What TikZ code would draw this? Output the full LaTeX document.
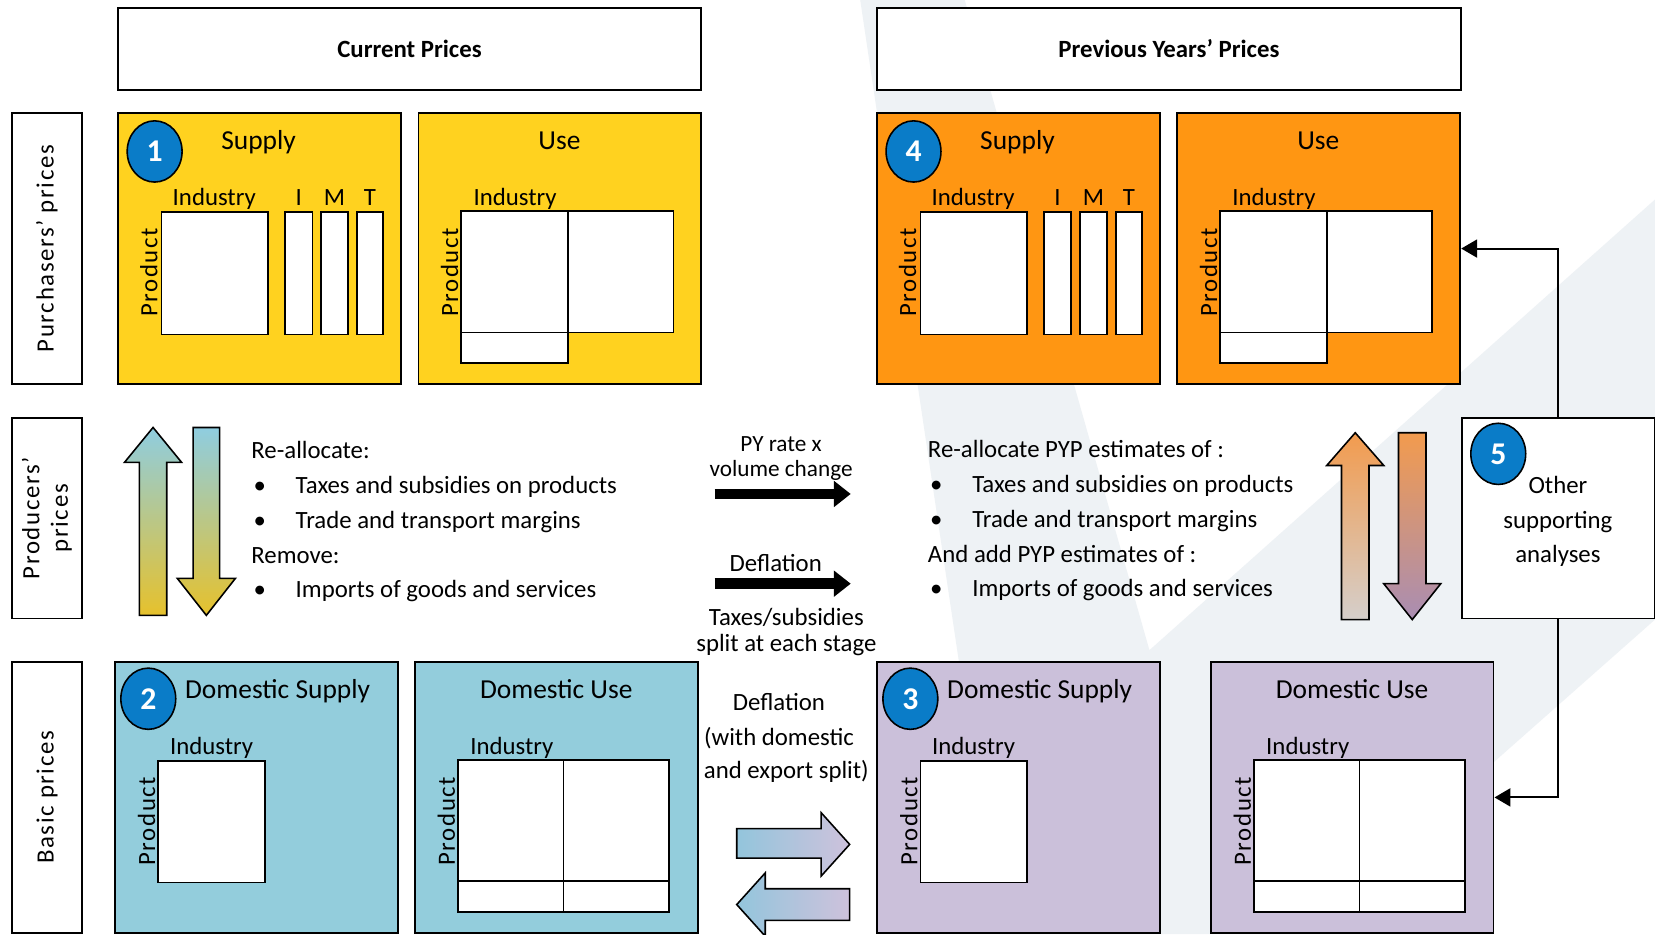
\documentclass[tikz,border=0pt]{standalone}
\usepackage{fontspec}
\setmainfont{Carlito}
\newfontfamily\spacedfont[LetterSpace=6.5]{Carlito}
\usetikzlibrary{shapes.geometric, positioning, arrows.meta}

\definecolor{supyel}{HTML}{FFD21F}
\definecolor{supor}{HTML}{FF9612}
\definecolor{basblue}{HTML}{93CDDC}
\definecolor{baspurp}{HTML}{CBC0DA}
\definecolor{numblue}{HTML}{0A7CC8}
\definecolor{wmark}{HTML}{EEF2F5}
\definecolor{arrblue}{HTML}{8FCDE0}
\definecolor{arrgold}{HTML}{E6C12C}
\definecolor{arrorange}{HTML}{F29B4E}
\definecolor{arrgrey}{HTML}{D5CFCB}
\definecolor{arrpurp}{HTML}{A98DB3}
\definecolor{hblue}{HTML}{93C5DC}
\definecolor{hpurp}{HTML}{CEC2DC}

\newcommand{\itembul}{\makebox[42pt][l]{\hspace{2pt}\textbullet}}

\tikzset{
  panel/.style={draw=black, line width=1.8pt, minimum width=268pt, minimum height=257pt, inner sep=0pt},
  header/.style={draw=black, line width=1.8pt, fill=white, minimum width=553pt, minimum height=77pt, text height=16pt, text depth=0pt, font=\fontsize{23.5}{28}\selectfont\bfseries},
  rowlab/.style={draw=black, line width=1.8pt, fill=white, rotate=90, minimum height=67pt, align=center, font=\spacedfont\fontsize{23.5}{27}\selectfont},
  cell/.style={draw=black, fill=white, line width=1.6pt},
  numcirc/.style={ellipse, draw=black, line width=1.5pt, fill=numblue, text=white, minimum width=52pt, minimum height=58pt, inner sep=0pt, font=\fontsize{30}{30}\selectfont\bfseries},
  lbl/.style={font=\fontsize{23.5}{28}\selectfont, inner sep=0pt, anchor=base},
  ttl/.style={font=\fontsize{26}{30}\selectfont, inner sep=0pt, anchor=base},
  prod/.style={font=\spacedfont\fontsize{23.5}{28}\selectfont, rotate=90, inner sep=0pt},
  link/.style={line width=1.8pt, -{Triangle[length=15pt,width=17pt]}},
  bigarrow/.style={line width=10pt, -{Triangle[length=16pt,width=24pt]}},
  blockarr/.style={draw=black, line width=1.5pt},
}

\begin{document}
\begin{tikzpicture}[x=1pt, y=-1pt]
\path[use as bounding box, fill=white] (0,0) rectangle (1568,885);
% watermark
\fill[wmark] (815,0) -- (914,0) -- (1089,616) -- (1568,189) -- (1568,587) -- (1231,885) -- (947,885) -- cycle;

% headers
\node[header] (hcp) at (388,46.5) {Current Prices};
\node[header] (hpy) at (1107.5,46.5) {Previous Years’ Prices};

% row labels
\node[rowlab, minimum width=257pt] (rpur) at (44.5,235.5) {Purchasers’ prices};
\node[rowlab, minimum width=190pt] (rpro) at (44.5,491) {Producers’\\prices};
\node[rowlab, minimum width=257pt] (rbas) at (44.5,755.5) {Basic prices};

% supply and use, purchasers' prices
\foreach \dx/\col/\idx/\nm in {0/supyel/1/cp, 719/supor/4/py} {
  \node[panel, fill=\col] (sup\nm) at (246+\dx,235.5) {};
  \node[panel, fill=\col] (use\nm) at (530.5+\dx,235.5) {};
  \node[numcirc] (n\idx) at (146.5+\dx,143.5) {\idx};
  \node[ttl] (tsup\nm) at (245+\dx,141.5) {Supply};
  \node[ttl] (tuse\nm) at (530+\dx,141.5) {Use};
  \node[lbl] (isup\nm) at (203+\dx,194.5) {Industry};
  \node[lbl] (li\nm) at (283+\dx,194.5) {I};
  \node[lbl] (lm\nm) at (317+\dx,194.5) {M};
  \node[lbl] (lt\nm) at (350.5+\dx,194.5) {T};
  \node[prod] (psup\nm) at (141+\dx,258) {Product};
  \draw[cell] (153+\dx,201) rectangle (254+\dx,317);
  \draw[cell] (270+\dx,201) rectangle (296+\dx,317);
  \draw[cell] (304+\dx,201) rectangle (330+\dx,317);
  \draw[cell] (338+\dx,201) rectangle (363+\dx,317);
  \node[lbl] (iuse\nm) at (488+\dx,194.5) {Industry};
  \node[prod] (puse\nm) at (426+\dx,258) {Product};
  \draw[cell] (437+\dx,200) rectangle (638+\dx,315);
  \draw[cell] (538+\dx,200) -- (538+\dx,315);
  \draw[cell] (437+\dx,315) rectangle (538+\dx,344);
}

% domestic supply and use, basic prices
\foreach \dx/\col/\idx/\nm in {0/basblue/2/cp, 722/baspurp/3/py} {
  \node[panel, fill=\col] (dsup\nm) at (243+\dx,755.5) {};
  \node[numcirc] (n\idx) at (140.5+\dx,662) {\idx};
  \node[ttl] (tdsup\nm) at (263+\dx,661.5) {Domestic Supply};
  \node[lbl] (idsup\nm) at (200.5+\dx,714.5) {Industry};
  \node[prod] (pdsup\nm) at (139+\dx,778) {Product};
  \draw[cell] (150+\dx,721) rectangle (251+\dx,836);
}
\foreach \dx/\col/\nm in {0/basblue/cp, 754/baspurp/py} {
  \node[panel, fill=\col] (duse\nm) at (527+\dx,755.5) {};
  \node[ttl] (tduse\nm) at (527+\dx,661.5) {Domestic Use};
  \node[lbl] (iduse\nm) at (485+\dx,714.5) {Industry};
  \node[prod] (pduse\nm) at (423+\dx,778) {Product};
  \draw[cell] (434+\dx,720) rectangle (634+\dx,864);
  \draw[cell] (534+\dx,720) -- (534+\dx,864);
  \draw[cell] (434+\dx,835) -- (634+\dx,835);
}

% other supporting analyses
\node[draw=black, line width=1.8pt, fill=white, minimum width=183pt, minimum height=190pt] (other) at (1476.5,491) {};
\node[lbl, anchor=center, align=center, font=\fontsize{23.5}{33}\selectfont] (tother) at (1476,494) {Other\\supporting\\analyses};
\node[numcirc] (n5) at (1419.5,430) {5};
\draw[link] (other.north) |- (usepy.east);
\draw[link] (other.south) |- (dusepy.east);

% block arrows
\draw[blockarr, top color=arrblue, bottom color=arrgold] (132,583) -- (132,438) -- (118,438) -- (145,405) -- (172,438) -- (158,438) -- (158,583) -- cycle;
\draw[blockarr, top color=arrblue, bottom color=arrgold] (183,405) -- (208,405) -- (208,548) -- (223,548) -- (195.5,583) -- (168,548) -- (183,548) -- cycle;
\draw[blockarr, top color=arrorange, bottom color=arrgrey] (1271,587) -- (1271,441) -- (1257,441) -- (1284,410) -- (1311,441) -- (1297,441) -- (1297,587) -- cycle;
\draw[blockarr, top color=arrorange, bottom color=arrpurp] (1325,410) -- (1351,410) -- (1351,553) -- (1365,553) -- (1338,587) -- (1311,553) -- (1325,553) -- cycle;
\draw[blockarr, left color=hblue, right color=hpurp] (698,785) -- (778,785) -- (778,770) -- (805,800) -- (778,830) -- (778,813) -- (698,813) -- cycle;
\draw[blockarr, left color=hblue, right color=hpurp] (805,842) -- (725,842) -- (725,827) -- (698,857) -- (725,887) -- (725,872) -- (805,872) -- cycle;

% re-allocation texts
\node[lbl, anchor=base west] (rl1) at (238,434.5) {Re-allocate:};
\node[lbl, anchor=base west] (rl2) at (238,467.5) {\itembul Taxes and subsidies on products};
\node[lbl, anchor=base west] (rl3) at (238,500.5) {\itembul Trade and transport margins};
\node[lbl, anchor=base west] (rl4) at (238,533.5) {Remove:};
\node[lbl, anchor=base west] (rl5) at (238,566.5) {\itembul Imports of goods and services};
\node[lbl, anchor=base west] (rr1) at (879,433.5) {Re-allocate PYP estimates of :};
\node[lbl, anchor=base west] (rr2) at (879,466.5) {\itembul Taxes and subsidies on products};
\node[lbl, anchor=base west] (rr3) at (879,499.5) {\itembul Trade and transport margins};
\node[lbl, anchor=base west] (rr4) at (879,532.5) {And add PYP estimates of :};
\node[lbl, anchor=base west] (rr5) at (879,565.5) {\itembul Imports of goods and services};

% middle arrows and notes
\coordinate (pya) at (677,468);
\coordinate (pyb) at (806,468);
\draw[bigarrow] (pya) -- (pyb);
\coordinate (dfa) at (677,553);
\coordinate (dfb) at (806,553);
\draw[bigarrow] (dfa) -- (dfb);
\node[lbl, font=\fontsize{22}{26}\selectfont] (tpy1) at (740,428) {PY rate x};
\node[lbl, font=\fontsize{22}{26}\selectfont] (tpy2) at (740,451) {volume change};
\node[lbl] (tdf1) at (735,541.5) {Deflation};
\node[lbl] (ttx1) at (745,593) {Taxes/subsidies};
\node[lbl] (ttx2) at (745,617) {split at each stage};
\node[lbl] (tdf2) at (738,673) {Deflation};
\node[lbl] (tdf3) at (738,706) {(with domestic};
\node[lbl] (tdf4) at (745,738) {and export split)};
\end{tikzpicture}
\end{document}
